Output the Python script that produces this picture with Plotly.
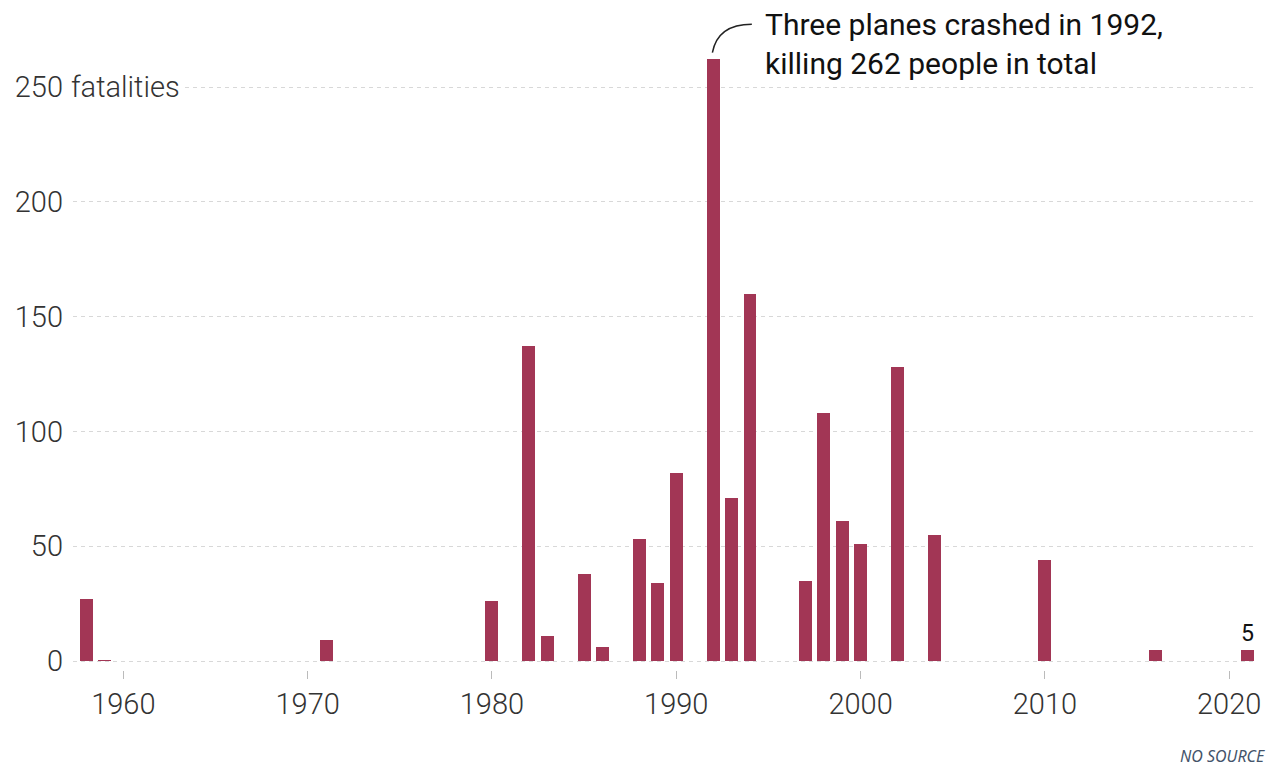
import plotly.graph_objects as go

years = [1958, 1959, 1971, 1980, 1982, 1983, 1985, 1986, 1988, 1989, 1990,
         1992, 1993, 1994, 1997, 1998, 1999, 2000, 2002, 2004, 2010, 2016, 2021]
fatalities = [27, 0.4, 9, 26, 137, 11, 38, 6, 53, 34, 82,
              262, 71, 160, 35, 108, 61, 51, 128, 55, 44, 5, 5]

x_ticks = [1960, 1970, 1980, 1990, 2000, 2010, 2020]
y_ticks = [0, 50, 100, 150, 200, 250]
y_ticktext = ["0", "50", "100", "150", "200", "250"]

bar_color = "#a23655"
font_family = "Roboto"

last_label = [""] * (len(fatalities) - 1) + [str(fatalities[-1])]

fig = go.Figure()
fig.add_trace(go.Bar(
    x=years, y=fatalities, width=0.7,
    marker=dict(color=bar_color, line=dict(width=0)),
    text=last_label, textposition="outside", cliponaxis=False,
    textfont=dict(family=font_family, size=28, color="#111"),
    hoverinfo="x+y",
))

# annotation for the 1992 peak
peak_i = fatalities.index(max(fatalities))
px_, py_ = years[peak_i], fatalities[peak_i]
fig.add_shape(
    type="path",
    path=f"M {px_ - 0.04},{py_ + 3} Q {px_ + 0.25},{py_ + 15.4} {px_ + 2.1},{py_ + 15.4}",
    xref="x", yref="y", line=dict(color="#222", width=1.5),
)
fig.add_annotation(
    x=px_ + 2.6, y=py_ + 15.4, xref="x", yref="y",
    xanchor="left", yanchor="top", yshift=19, xshift=2, align="left", showarrow=False,
    text="Three planes crashed in 1992,<br>killing 262 people in total",
    font=dict(family=font_family, size=30, color="#111"),
)

# unit label next to top tick
fig.add_annotation(
    x=0, y=250, xref="paper", yref="y", xanchor="left", yanchor="middle",
    xshift=-6, showarrow=False, text="fatalities", bgcolor="white",
    borderpad=3,
    font=dict(family=font_family, size=29, color="#333", weight=300),
)

fig.add_annotation(
    x=1, y=0, xref="paper", yref="paper", xanchor="right", yanchor="middle",
    xshift=12, yshift=-86, showarrow=False, text="<i>NO SOURCE</i>",
    font=dict(family="Noto Sans", size=16, color="#44546a"),
)

fig.update_layout(
    width=1275, height=767,
    margin=dict(l=73, r=20, t=20, b=97),
    plot_bgcolor="white", paper_bgcolor="white",
    showlegend=False, bargap=0,
    font=dict(family=font_family, color="#333"),
)
fig.update_xaxes(
    range=[1957.27, 2021.4], tickvals=x_ticks, automargin=False,
    ticks="outside", ticklen=8, tickcolor="#bbb", tickwidth=1,
    showgrid=False, zeroline=False, showline=False,
    tickfont=dict(family=font_family, size=29, color="#333", weight=300),
)
fig.update_yaxes(
    range=[-3.92, 279.2], tickvals=y_ticks, ticktext=y_ticktext, automargin=False,
    showgrid=True, gridcolor="#d8d8d8", gridwidth=1, griddash="4px,4px",
    zeroline=False, showline=False, ticks="", ticklabelstandoff=9,
    tickfont=dict(family=font_family, size=29, color="#333", weight=300),
)

fig.write_html("out.html", config={"displayModeBar": False},
               post_script="document.body.style.margin='0px';")
